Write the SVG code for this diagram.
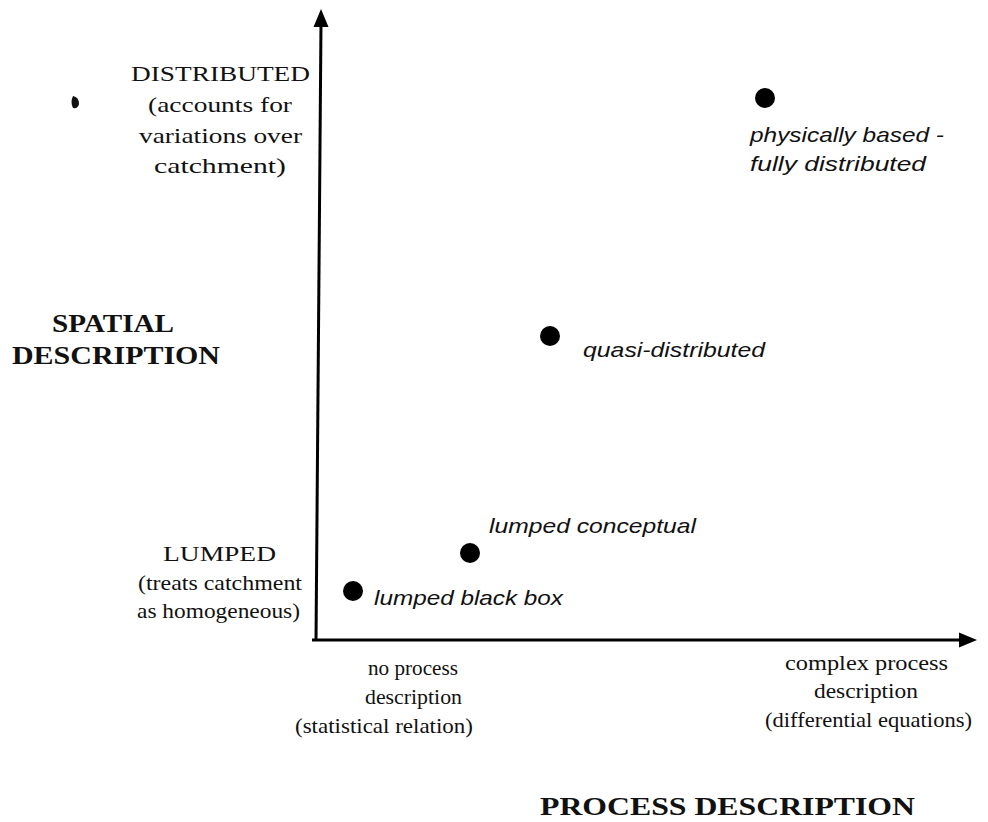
<svg xmlns="http://www.w3.org/2000/svg" width="988" height="822" viewBox="0 0 988 822">
<style>
.t{font-family:"Liberation Serif","Times New Roman",serif;font-size:22px;fill:#111}
.b{font-family:"Liberation Serif","Times New Roman",serif;font-size:25px;font-weight:bold;fill:#111}
.i{font-family:"Liberation Sans",Arial,sans-serif;font-size:21px;font-style:italic;fill:#111}
.ax{stroke:#000;stroke-width:3;fill:none}
.dot{fill:#000}
</style>
<rect width="988" height="822" fill="#fff"/>
<g id="connectors">
<line class="ax" x1="316" y1="641" x2="321" y2="22"/>
<polygon points="321,9 313.5,27 328.5,27" fill="#000"/>
<line class="ax" x1="312" y1="640" x2="964" y2="640"/>
<polygon points="977,640 959,632.5 959,647.5" fill="#000"/>
</g>
<path d="M73,96 Q79,97 79,104 Q78,109 73,108 Q70,102 73,96 Z" fill="#111"/>
<g id="axis-y-labels">
<text class="t" x="131" y="81" textLength="179" lengthAdjust="spacingAndGlyphs">DISTRIBUTED</text>
<text class="t" x="148" y="112" textLength="144" lengthAdjust="spacingAndGlyphs">(accounts for</text>
<text class="t" x="139" y="143" textLength="163" lengthAdjust="spacingAndGlyphs">variations over</text>
<text class="t" x="154" y="173" textLength="132" lengthAdjust="spacingAndGlyphs">catchment)</text>
<text class="b" x="52" y="332" textLength="122" lengthAdjust="spacingAndGlyphs">SPATIAL</text>
<text class="b" x="12" y="364" textLength="208" lengthAdjust="spacingAndGlyphs">DESCRIPTION</text>
<text class="t" x="163" y="561" textLength="113" lengthAdjust="spacingAndGlyphs">LUMPED</text>
<text class="t" x="138" y="590" textLength="164" lengthAdjust="spacingAndGlyphs">(treats catchment</text>
<text class="t" x="137" y="618" textLength="163" lengthAdjust="spacingAndGlyphs">as homogeneous)</text>
</g>
<g id="axis-x-labels">
<text class="t" x="368" y="675" textLength="90" lengthAdjust="spacingAndGlyphs">no process</text>
<text class="t" x="365" y="704" textLength="97" lengthAdjust="spacingAndGlyphs">description</text>
<text class="t" x="295" y="733" textLength="178" lengthAdjust="spacingAndGlyphs">(statistical relation)</text>
<text class="t" x="785" y="670" textLength="163" lengthAdjust="spacingAndGlyphs">complex process</text>
<text class="t" x="814" y="698" textLength="104" lengthAdjust="spacingAndGlyphs">description</text>
<text class="t" x="765" y="727" textLength="207" lengthAdjust="spacingAndGlyphs">(differential equations)</text>
<text class="b" x="540" y="815" textLength="375" lengthAdjust="spacingAndGlyphs">PROCESS DESCRIPTION</text>
</g>
<g id="node-physically-based">
<circle class="dot" cx="765" cy="98" r="10"/>
<text class="i" x="750" y="142" textLength="194" lengthAdjust="spacingAndGlyphs">physically based -</text>
<text class="i" x="750" y="171" textLength="176" lengthAdjust="spacingAndGlyphs">fully distributed</text>
</g>
<g id="node-quasi-distributed">
<circle class="dot" cx="550" cy="336" r="10"/>
<text class="i" x="583" y="357" textLength="182" lengthAdjust="spacingAndGlyphs">quasi-distributed</text>
</g>
<g id="node-lumped-conceptual">
<circle class="dot" cx="470" cy="553" r="10"/>
<text class="i" x="489" y="533" textLength="207" lengthAdjust="spacingAndGlyphs">lumped conceptual</text>
</g>
<g id="node-lumped-black-box">
<circle class="dot" cx="353" cy="591" r="10"/>
<text class="i" x="374" y="605" textLength="189" lengthAdjust="spacingAndGlyphs">lumped black box</text>
</g>
</svg>
